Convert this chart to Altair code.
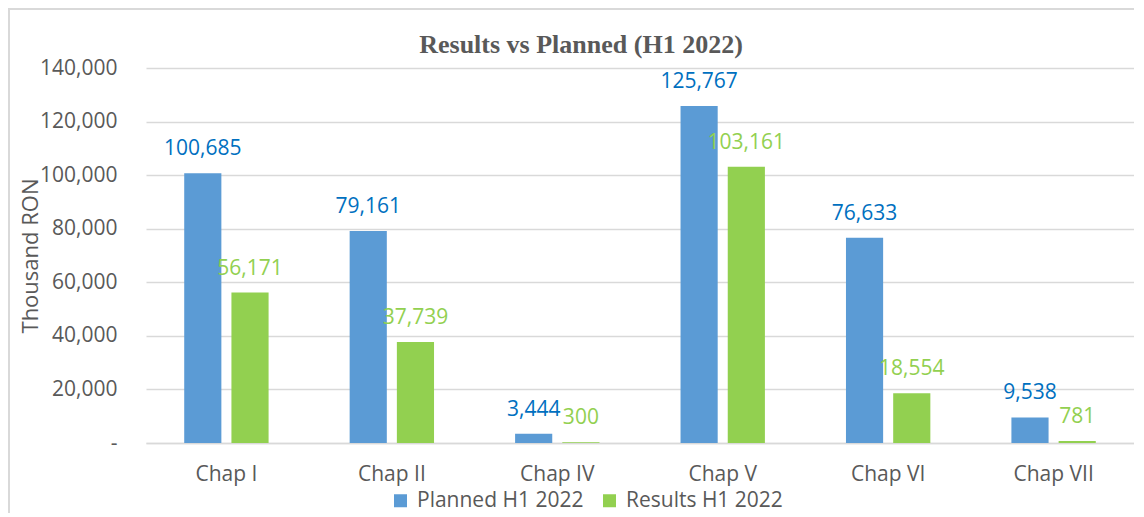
import altair as alt
import pandas as pd

categories = ["Chap I", "Chap II", "Chap IV", "Chap V", "Chap VI", "Chap VII"]
planned = [100685, 79161, 3444, 125767, 76633, 9538]
results = [56171, 37739, 300, 103161, 18554, 781]
series_names = ["Planned H1 2022", "Results H1 2022"]
bar_colors = ["#5B9BD5", "#92D050"]
label_colors = ["#0070C0", "#92D050"]

rows = []
for c, p, r in zip(categories, planned, results):
    rows.append({"cat": c, "series": series_names[0], "value": p})
    rows.append({"cat": c, "series": series_names[1], "value": r})
df = pd.DataFrame(rows)

FONT = "Open Sans"
GRAY = "#595959"
GRID = "#D9D9D9"

x_enc = alt.X("cat:N", sort=categories,
              scale=alt.Scale(paddingInner=0.49, paddingOuter=0.231),
              axis=alt.Axis(title=None, labelAngle=0, ticks=False, tickSize=0,
                            labelPadding=37, labelBaseline="alphabetic",
                            labelFontSize=21, labelColor=GRAY, labelFont=FONT,
                            domain=True, domainColor=GRID, domainWidth=1.5,
                            grid=False))
xo_enc = alt.XOffset("series:N", sort=series_names,
                     scale=alt.Scale(paddingInner=0.213, paddingOuter=0))
y_enc = alt.Y("value:Q",
              scale=alt.Scale(domain=[0, 140000], nice=False),
              axis=alt.Axis(title="Thousand RON", values=list(range(0, 140001, 20000)),
                            labelExpr="datum.value == 0 ? '-' : format(datum.value, ',')",
                            labelFontSize=21, labelColor=GRAY, labelFont=FONT,
                            labelPadding=29, ticks=False, tickSize=0, domain=False,
                            grid=True, gridColor=GRID, gridWidth=1.3,
                            titleFontSize=22, titleColor=GRAY, titleFont=FONT,
                            titleFontWeight="normal", titleX=-109,
                            titleBaseline="alphabetic"))

border = alt.Chart(df).mark_rect(fill=None, stroke=GRID, strokeWidth=1.5).encode(
    x=alt.value(-137), x2=alt.value(1200), y=alt.value(-59), y2=alt.value(600)
)

bars = alt.Chart(df).mark_bar().encode(
    x=x_enc, xOffset=xo_enc, y=y_enc,
    color=alt.Color("series:N", sort=series_names,
                    scale=alt.Scale(domain=series_names, range=bar_colors),
                    legend=alt.Legend(title=None, orient="none", direction="horizontal",
                                      legendX=244, legendY=422, padding=0,
                                      symbolType="square", symbolSize=169,
                                      symbolStrokeWidth=0, labelOffset=6,
                                      columnPadding=15, labelLimit=400,
                                      labelFontSize=21, labelColor=GRAY, labelFont=FONT))
)

labels = alt.Chart(df).mark_text(baseline="alphabetic", dy=-18, fontSize=21, font=FONT).encode(
    x=x_enc, xOffset=xo_enc, y=y_enc,
    text=alt.Text("value:Q", format=",.0f"),
    color=alt.condition(alt.datum.series == series_names[0],
                        alt.value(label_colors[0]), alt.value(label_colors[1]))
)

chart = alt.layer(border, bars, labels).properties(
    width=988, height=375,
    autosize=alt.AutoSizeParams(type="none"),
    padding={"left": 138, "top": 60, "right": 0, "bottom": 70},
    title=alt.TitleParams("Results vs Planned (H1 2022)", font="Liberation Serif",
                          fontSize=26, fontWeight="bold", color=GRAY,
                          anchor="middle", dx=-59, offset=-71, baseline="alphabetic")
).configure_view(stroke=None)

chart.save("out.html", embed_options={"renderer": "svg", "actions": False})
